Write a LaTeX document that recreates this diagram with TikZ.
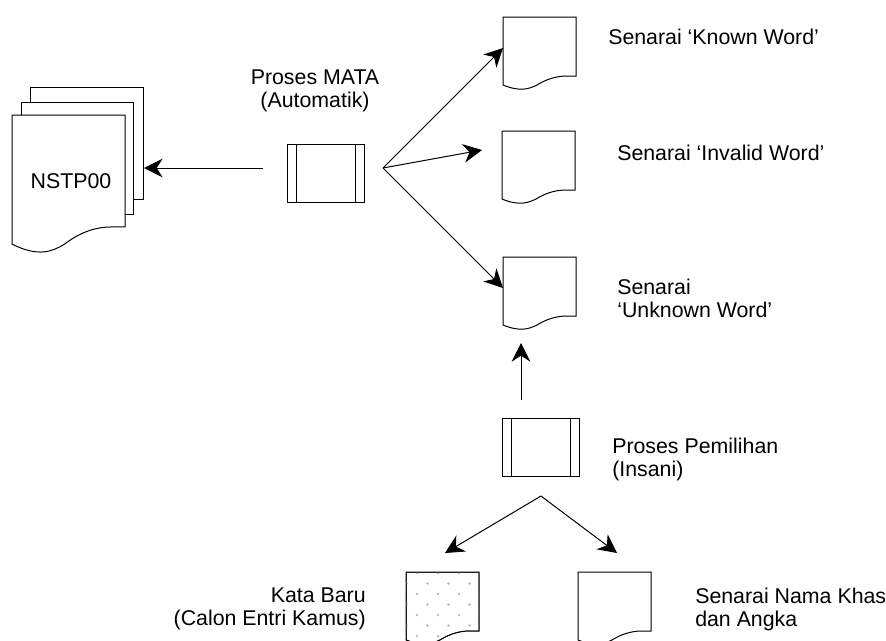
\documentclass[tikz,border=0pt]{standalone}
\usepackage{fontspec}
\setmainfont{Liberation Sans}
\usetikzlibrary{arrows.meta}

\tikzset{
  docline/.style={draw=black, line width=0.75pt, fill=white},
  procbox/.style={draw, line width=0.75pt, minimum width=57.75pt, minimum height=43.5pt, inner sep=0pt,
    path picture={
      \draw[line width=0.75pt] ([xshift=6.75pt]path picture bounding box.north west) -- ([xshift=6.75pt]path picture bounding box.south west);
      \draw[line width=0.75pt] ([xshift=-6.75pt]path picture bounding box.north east) -- ([xshift=-6.75pt]path picture bounding box.south east);}},
  flow/.style={line width=0.75pt, -{Stealth[length=14pt,width=14pt,inset=4.5pt]}},
  txt/.style={font=\fontsize{16}{17.25}\selectfont, inner sep=0.75pt}
}
% one sheet, top left corner at (0,0)
\def\sheet{(0,0) -- (73,0) -- (73,59) -- (64,59) .. controls (52,59) and (42,63) .. (34,68) .. controls (26,72) and (17,75) .. (0,68) -- cycle}

\begin{document}
\begin{tikzpicture}[x=0.75pt,y=0.75pt,yscale=-1,xscale=1]
\useasboundingbox (0,0) rectangle (886,640);
\clip (0,0) rectangle (886,640);

%Stacked Documents
\draw[docline] (30,87) rectangle (143,199);
\draw[docline] (21,102) rectangle (133,214);
\begin{scope}[shift={(12,115)}, xscale=1.548, yscale=1.898]
\draw[docline] \sheet;
\end{scope}

%Documents
\begin{scope}[shift={(503,17)}]
\draw[docline] \sheet;
\end{scope}
\begin{scope}[shift={(502,131)}]
\draw[docline] \sheet;
\end{scope}
\begin{scope}[shift={(503,257)}]
\draw[docline] \sheet;
\end{scope}
%Dotted Document
\begin{scope}[shift={(406,572)}]
\draw[docline] \sheet;
\clip \sheet;
\foreach \r in {0,...,7}
  \foreach \c in {0,...,3}
    \fill[gray!55] ({0.5+10.5*mod(\r+1,2)+21*\c}, {1+10.5*\r}) circle (1.3);
\draw[line width=0.75pt] \sheet;
\end{scope}
\begin{scope}[shift={(578,572)}]
\draw[docline] \sheet;
\end{scope}

%Process Boxes
\node[procbox] (mata) at (325.5,173) {};
\node[procbox] (pilih) at (540.5,447.5) {};

%Arrow Ends
\coordinate (mataL) at (263,168);
\coordinate (nstp) at (144,168);
\coordinate (fan) at (383,168);
\coordinate (known) at (503,48);
\coordinate (invalid) at (482,150);
\coordinate (unknown) at (503,288);
\coordinate (pilihT) at (521,400);
\coordinate (upTip) at (521,343);
\coordinate (split) at (541,496);
\coordinate (baru) at (445,553);
\coordinate (khas) at (617,553);

%Straight Lines
\draw[flow] (mataL) -- (nstp);
\draw[flow] (fan) -- (known);
\draw[flow] (fan) -- (invalid);
\draw[flow] (fan) -- (unknown);
\draw[flow] (pilihT) -- (upTip);
\draw[flow] (split) -- (baru);
\draw[flow] (split) -- (khas);

% Text Node
\node[txt, anchor=north] (tnstp) at (71,172.5) {NSTP00};
% Text Node
\node[txt, anchor=north, align=center] (tmata) at (315,68.5) {Proses MATA\\(Automatik)};
% Text Node
\node[txt, anchor=north west] (tknown) at (607,27.5) {Senarai ‘Known Word’};
% Text Node
\node[txt, anchor=north west] (tinvalid) at (616,143.5) {Senarai ‘Invalid Word’};
% Text Node
\node[txt, anchor=north west, align=left] (tunknown) at (616,277.5) {Senarai\\‘Unknown Word’};
% Text Node
\node[txt, anchor=north west, align=left] (tpilih) at (611,436.5) {Proses Pemilihan\\(Insani)};
% Text Node
\node[txt, anchor=north east, align=right] (tbaru) at (367,586.5) {Kata Baru\\(Calon Entri Kamus)};
% Text Node
\node[txt, anchor=north west, align=left] (tkhas) at (694,586.5) {Senarai Nama Khas\\dan Angka};
\end{tikzpicture}
\end{document}
